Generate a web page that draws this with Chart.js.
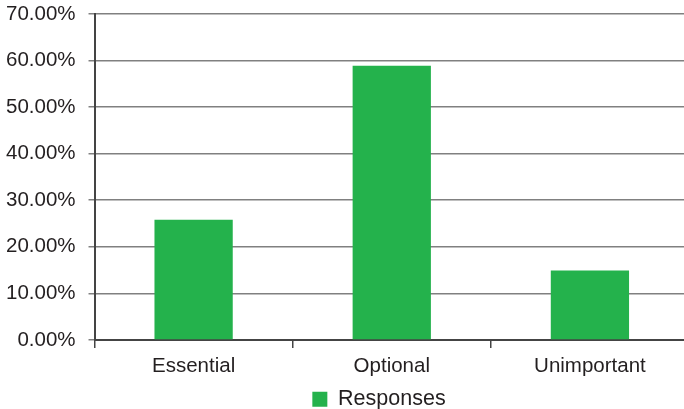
<!DOCTYPE html>
<html>
<head>
<meta charset="utf-8">
<script src="https://cdn.jsdelivr.net/npm/chart.js@4/dist/chart.umd.min.js"></script>
<style>
  html, body { margin: 0; padding: 0; background: #fff; overflow: hidden; }
  #wrap { width: 684px; height: 409px; overflow: hidden; }
</style>
</head>
<body>
<div id="wrap"><canvas id="c" width="690" height="409"></canvas></div>
<script>
// Survey answers: share of respondents per importance rating
const categories = ['Essential', 'Optional', 'Unimportant'];
const responses = [25.8, 58.9, 14.9];
const seriesName = 'Responses';

const textColor = '#231f20';
const fontFamily = '"Liberation Sans", Arial, Helvetica, sans-serif';
const tickFont = { family: fontFamily, size: 20.5 };

// Nudges the bottom legend to the right so it sits under the plot area
const legendOffset = {
  id: 'legendOffset',
  afterLayout(chart, args, opts) {
    const lg = chart.legend;
    if (!lg) return;
    lg.left += opts.dx;
    lg.right += opts.dx;
  }
};

new Chart(document.getElementById('c'), {
  type: 'bar',
  data: {
    labels: categories,
    datasets: [{
      label: seriesName,
      data: responses,
      backgroundColor: '#24b24c',
      borderWidth: 0,
      categoryPercentage: 1,
      barPercentage: 0.395
    }]
  },
  plugins: [legendOffset],
  options: {
    responsive: false,
    animation: false,
    layout: { padding: { left: -7, top: 14, right: 1, bottom: -11 } },
    plugins: {
      tooltip: { enabled: false },
      legendOffset: { dx: 38 },
      legend: {
        position: 'bottom',
        labels: {
          color: textColor,
          font: { family: fontFamily, size: 21.5 },
          boxWidth: 15,
          boxHeight: 15,
          padding: 4
        }
      }
    },
    scales: {
      x: {
        grid: {
          offset: true,
          drawOnChartArea: false,
          drawTicks: true,
          tickLength: 8,
          color: '#444',
          lineWidth: 1.5
        },
        border: { color: '#444', width: 2 },
        ticks: {
          color: textColor,
          font: tickFont,
          padding: 6
        }
      },
      y: {
        min: 0,
        max: 70,
        // let the top tick label sit above the plot without pushing it down
        afterFit: scale => { scale.paddingTop = 0; scale.paddingBottom = 0; },
        ticks: {
          stepSize: 10,
          color: textColor,
          font: tickFont,
          padding: 13,
          callback: v => v.toFixed(2) + '%'
        },
        grid: {
          color: '#808080',
          lineWidth: 1.5,
          tickLength: 6
        },
        border: { color: '#444', width: 2 }
      }
    }
  }
});
</script>
</body>
</html>
